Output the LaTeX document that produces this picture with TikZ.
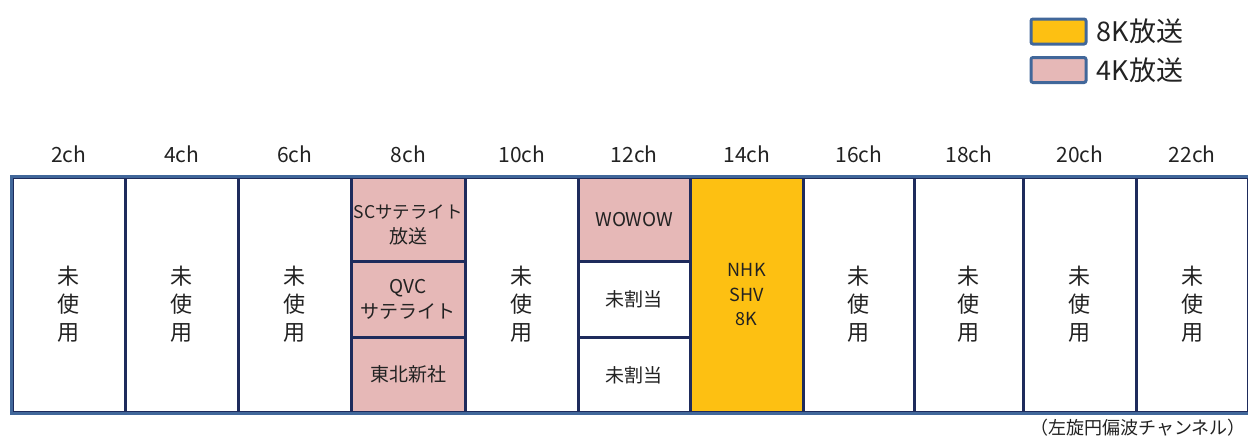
\documentclass[tikz,border=0pt]{standalone}
\usepackage{fontspec}
\setmainfont{Noto Sans CJK JP}
\usetikzlibrary{positioning}
\definecolor{frame}{HTML}{41679A}
\definecolor{divider}{HTML}{1E2B5C}
\definecolor{pink4k}{HTML}{E6B8B7}
\definecolor{gold8k}{HTML}{FDC012}
\definecolor{ink}{HTML}{222222}
\tikzset{
  cell/.style={rectangle, draw=divider, line width=2.6pt, fill=white, text=ink,
               align=center, inner sep=0pt, anchor=north west, minimum height=235},
  celltext/.style={align=center, inner sep=0pt, text=ink},
  unused/.style={cell, label={[celltext, yshift=-9pt,
                 font=\fontsize{22}{28}\selectfont]center:未\\使\\用}},
  slot/.style={cell, font=\fontsize{19}{25}\selectfont, minimum height=#1},
  k4/.style={slot=#1, fill=pink4k},
  free/.style={slot=#1},
  k8/.style={cell, fill=gold8k, font=\fontsize{18}{24.5}\selectfont},
  chlabel/.style={anchor=base, inner sep=0pt, text=ink, font=\fontsize{21}{24}\selectfont},
  legbox/.style={rectangle, rounded corners=2pt, draw=frame, line width=3pt,
                 minimum width=55, minimum height=25, inner sep=0pt},
  legtext/.style={inner sep=0pt, text=ink, font=\fontsize{27}{32}\selectfont},
  note/.style={inner sep=0pt, anchor=west, text=ink, font=\fontsize{18}{22}\selectfont}
}

\begin{document}
\begin{tikzpicture}[x=1pt, y=-1pt]
  \useasboundingbox (0,0) rectangle (1248,439);

  % legend
  \node[legbox, fill=gold8k] (key8) at (1058.5,31.5) {};
  \node[legtext, right=9pt of key8] (txt8) {8K放送};
  \node[legbox, fill=pink4k] (key4) at (1058.5,70) {};
  \node[legtext, right=9pt of key4] (txt4) {4K放送};

  % unused channels
  \foreach \ch/\xa/\xb in {2/11/124, 4/124/237, 6/237/350, 10/464/577,
                           16/802/913, 18/913/1022, 20/1022/1135, 22/1135/1247}
    \node[unused, minimum width={\xb-\xa}] (c\ch) at (\xa,176) {};

  % 8ch
  \node[k4=84, minimum width=114, label={[celltext, yshift=-6pt,
        font=\fontsize{19}{25}\selectfont]center:{\fontsize{17.5}{25}\selectfont SCサテライト}\\放送}]
    (c8) at (350,176) {};
  \node[k4=76, minimum width=114] (c8b) at (350,260) {QVC\\サテライト};
  \node[k4=75, minimum width=114] (c8c) at (350,336) {東北新社};

  % 12ch
  \node[k4=84, minimum width=112] (c12) at (577,176) {WOWOW};
  \node[free=76, minimum width=112] (c12b) at (577,260) {未割当};
  \node[free=75, minimum width=112] (c12c) at (577,336) {未割当};

  % 14ch
  \node[k8, minimum width=113] (c14) at (689,176) {NHK\\SHV\\8K};

  % outer frame
  \draw[frame, line width=3pt] (c2.north west) rectangle (c22.south east);

  % channel numbers
  \foreach \ch in {2,4,6,8,10,12,14,16,18,20,22}
    \node[chlabel] (l\ch) at ([yshift=14pt]c\ch.north) {\ch ch};

  \node[note] (pol) at (1030,428) {（左旋円偏波チャンネル）};
\end{tikzpicture}
\end{document}
